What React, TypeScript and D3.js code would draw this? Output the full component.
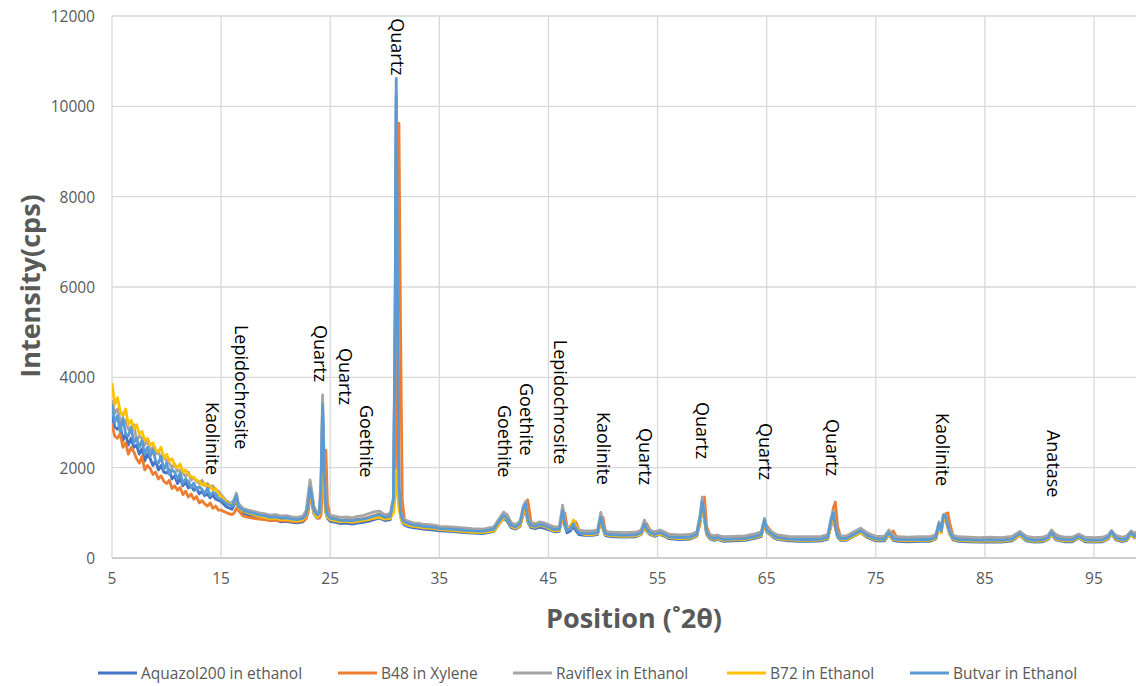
import React from "react";
import * as d3 from "d3";

// 2θ positions shared by all five patterns
const position = [
  5.0, 5.25, 5.5, 5.75, 6.0, 6.25, 6.5, 6.75, 7.0, 7.25,
  7.5, 7.75, 8.0, 8.25, 8.5, 8.75, 9.0, 9.25, 9.5, 9.75,
  10.0, 10.25, 10.5, 10.75, 11.0, 11.25, 11.5, 11.75, 12.0, 12.25,
  12.5, 12.75, 13.0, 13.25, 13.5, 13.75, 14.0, 14.25, 14.5, 14.75,
  15.0, 15.5, 16.0, 16.2, 16.4, 16.6, 17.0, 17.5, 18.0, 18.5,
  19.0, 19.5, 20.0, 20.5, 21.0, 21.5, 22.0, 22.5, 22.8, 23.0,
  23.15, 23.3, 23.5, 23.8, 24.0, 24.15, 24.3, 24.45, 24.6, 24.75,
  25.0, 25.5, 26.0, 26.5, 27.0, 27.5, 28.0, 28.5, 29.0, 29.5,
  30.0, 30.5, 30.8, 30.95, 31.05, 31.15, 31.3, 31.45, 31.6, 31.8,
  32.2, 32.6, 33.0, 33.5, 34.0, 34.5, 35.0, 36.0, 37.0, 38.0,
  39.0, 40.0, 40.5, 40.9, 41.2, 41.6, 42.0, 42.4, 42.7, 42.9,
  43.1, 43.4, 43.8, 44.2, 44.6, 45.0, 45.5, 46.0, 46.3, 46.5,
  46.7, 47.0, 47.3, 47.5, 47.8, 48.3, 49.0, 49.5, 49.8, 50.0,
  50.2, 50.5, 51.0, 52.0, 53.0, 53.5, 53.8, 54.0, 54.3, 54.7,
  55.2, 55.6, 56.0, 57.0, 58.0, 58.6, 58.9, 59.1, 59.3, 59.5,
  59.8, 60.2, 60.5, 61.0, 62.0, 63.0, 64.0, 64.5, 64.8, 65.0,
  65.3, 65.6, 66.0, 67.0, 68.0, 69.0, 70.0, 70.6, 70.9, 71.1,
  71.3, 71.5, 71.8, 72.3, 73.0, 73.6, 74.2, 75.0, 75.8, 76.2,
  76.6, 77.0, 78.0, 79.0, 80.0, 80.5, 80.8, 81.0, 81.2, 81.4,
  81.6, 81.8, 82.1, 82.6, 83.5, 84.5, 85.5, 86.5, 87.5, 88.2,
  88.8, 89.5, 90.3, 90.8, 91.1, 91.5, 92.3, 93.0, 93.6, 94.2,
  95.0, 95.8, 96.3, 96.6, 97.0, 97.6, 98.0, 98.4, 98.7, 99.0,
];

const aquazol = [
  3150, 2900, 2850, 2950, 2600, 2750, 2500, 2650, 2450, 2500,
  2300, 2420, 2150, 2300, 2200, 2050, 2150, 1950, 2050, 1900,
  1880, 1950, 1750, 1820, 1650, 1760, 1600, 1680, 1550, 1600,
  1500, 1560, 1420, 1480, 1380, 1420, 1330, 1400, 1300, 1280,
  1250, 1130, 1080, 1180, 1300, 1060, 990, 950, 910, 880,
  860, 830, 840, 800, 810, 790, 780, 800, 880, 1150,
  1450, 1250, 980, 880, 920, 1450, 3300, 1800, 1000, 880,
  810, 790, 760, 770, 750, 770, 790, 810, 850, 880,
  830, 850, 1200, 5200, 10200, 6200, 1450, 920, 790, 730,
  690, 670, 660, 640, 630, 620, 600, 590, 570, 550,
  540, 590, 760, 880, 820, 670, 640, 700, 1020, 1130,
  800, 670, 650, 680, 660, 630, 580, 590, 980, 710,
  560, 600, 700, 610, 520, 500, 500, 520, 840, 650,
  500, 480, 470, 460, 470, 520, 700, 600, 520, 480,
  520, 480, 430, 410, 420, 480, 840, 1180, 850, 520,
  420, 390, 410, 370, 380, 390, 440, 480, 790, 580,
  520, 460, 410, 380, 370, 370, 380, 420, 770, 940,
  660, 460, 390, 390, 480, 560, 460, 380, 380, 520,
  390, 370, 360, 370, 370, 420, 720, 560, 900, 870,
  680, 520, 400, 370, 360, 350, 360, 350, 380, 500,
  380, 350, 360, 410, 520, 400, 360, 360, 440, 360,
  350, 360, 420, 540, 400, 360, 390, 520, 440, 500,
];

const b48 = [
  2950, 2700, 2650, 2750, 2450, 2550, 2300, 2450, 2350, 2200,
  2100, 2250, 1950, 2050, 1980, 1850, 1900, 1750, 1820, 1700,
  1650, 1720, 1540, 1600, 1500, 1560, 1400, 1480, 1350, 1420,
  1300, 1360, 1220, 1270, 1200, 1150, 1220, 1100, 1150, 1060,
  1060, 1000, 960, 1000, 1100, 1050, 930, 900, 880, 860,
  850, 830, 840, 820, 830, 810, 800, 820, 870, 1050,
  1300, 1450, 1100, 900, 880, 950, 1400, 2000, 2390, 1200,
  900, 870, 840, 850, 830, 860, 870, 900, 940, 970,
  910, 930, 1050, 1500, 3500, 6800, 9620, 5000, 1300, 850,
  780, 750, 740, 720, 700, 690, 670, 650, 630, 610,
  600, 640, 780, 920, 960, 760, 700, 740, 950, 1180,
  1290, 800, 720, 750, 730, 690, 640, 640, 850, 1000,
  700, 640, 740, 800, 620, 550, 550, 560, 780, 900,
  620, 530, 520, 510, 520, 550, 640, 760, 620, 540,
  580, 540, 480, 460, 470, 520, 750, 1200, 1350, 700,
  500, 440, 470, 420, 430, 440, 490, 520, 700, 720,
  620, 520, 460, 430, 420, 420, 430, 460, 700, 1100,
  1240, 700, 450, 440, 530, 640, 520, 430, 430, 500,
  600, 420, 410, 420, 420, 450, 650, 700, 800, 980,
  1000, 750, 480, 420, 410, 400, 410, 400, 430, 500,
  480, 400, 410, 440, 600, 520, 410, 410, 470, 420,
  400, 410, 440, 560, 480, 410, 430, 520, 560, 520,
];

const raviflex = [
  3500, 3200, 3300, 3050, 2950, 3050, 2850, 2800, 2950, 2600,
  2700, 2650, 2500, 2600, 2380, 2450, 2300, 2350, 2200, 2250,
  2150, 2100, 2000, 2080, 1920, 1950, 1880, 1800, 1900, 1720,
  1780, 1700, 1650, 1720, 1600, 1650, 1560, 1600, 1500, 1480,
  1400, 1260, 1210, 1300, 1440, 1200, 1100, 1060, 1030, 1000,
  980, 950, 960, 930, 940, 910, 900, 930, 1050, 1450,
  1730, 1500, 1150, 1000, 1050, 1700, 3610, 2100, 1150, 1020,
  950, 920, 900, 910, 890, 920, 940, 980, 1020, 1040,
  960, 980, 1350, 5300, 10300, 6400, 1600, 1050, 920, 850,
  810, 780, 770, 750, 740, 730, 700, 690, 670, 650,
  640, 690, 880, 1020, 950, 780, 740, 820, 1150, 1250,
  900, 780, 760, 800, 780, 740, 690, 690, 1170, 830,
  660, 700, 800, 720, 620, 600, 600, 620, 1010, 760,
  600, 580, 570, 560, 570, 620, 840, 700, 620, 580,
  620, 580, 530, 510, 520, 580, 950, 1350, 950, 620,
  520, 490, 510, 470, 480, 490, 540, 580, 880, 680,
  620, 560, 510, 480, 470, 470, 480, 520, 880, 1050,
  760, 560, 490, 490, 580, 660, 560, 480, 480, 620,
  490, 470, 460, 470, 470, 520, 800, 660, 960, 950,
  760, 620, 500, 470, 460, 450, 460, 450, 480, 590,
  480, 450, 460, 510, 620, 500, 460, 460, 530, 460,
  450, 460, 510, 610, 500, 460, 490, 600, 540, 580,
];

const b72 = [
  3870, 3400, 3550, 3250, 3150, 3300, 2950, 3050, 2850, 2950,
  2750, 2800, 2600, 2650, 2500, 2550, 2400, 2350, 2450, 2200,
  2300, 2150, 2200, 2050, 2000, 2080, 1900, 1950, 1850, 1800,
  1780, 1720, 1700, 1620, 1650, 1560, 1600, 1500, 1540, 1420,
  1360, 1230, 1170, 1220, 1320, 1110, 1040, 1000, 960, 920,
  900, 870, 880, 850, 860, 830, 820, 850, 930, 1180,
  1450, 1300, 1000, 900, 950, 1300, 2100, 1500, 1000, 900,
  850, 820, 800, 810, 790, 810, 830, 850, 880, 900,
  860, 880, 1000, 1400, 1950, 1500, 1100, 900, 800, 760,
  720, 700, 690, 670, 660, 650, 630, 610, 590, 570,
  560, 600, 760, 900, 860, 700, 660, 720, 1000, 1100,
  820, 700, 680, 720, 700, 660, 600, 610, 950, 760,
  620, 680, 840, 720, 580, 520, 520, 540, 820, 680,
  520, 500, 490, 480, 490, 530, 700, 620, 540, 500,
  530, 500, 450, 430, 440, 500, 840, 1150, 850, 540,
  440, 410, 430, 390, 400, 410, 460, 500, 780, 600,
  540, 480, 430, 400, 390, 390, 400, 440, 760, 930,
  660, 480, 410, 410, 490, 560, 480, 400, 400, 520,
  410, 390, 380, 390, 390, 440, 700, 560, 880, 860,
  680, 530, 420, 390, 380, 370, 380, 370, 400, 500,
  400, 370, 380, 420, 520, 420, 380, 380, 450, 380,
  370, 380, 430, 540, 420, 380, 410, 520, 450, 500,
];

const butvar = [
  3400, 3000, 3150, 2800, 3100, 2750, 2700, 2900, 2550, 2650,
  2450, 2600, 2300, 2450, 2250, 2400, 2150, 2100, 2250, 1950,
  2100, 1850, 1950, 1900, 1750, 1880, 1650, 1750, 1700, 1560,
  1660, 1500, 1580, 1520, 1420, 1550, 1380, 1450, 1420, 1320,
  1300, 1200, 1150, 1250, 1380, 1130, 1060, 1020, 990, 950,
  940, 900, 910, 880, 890, 860, 850, 880, 960, 1250,
  1550, 1350, 1060, 950, 990, 1500, 3400, 1900, 1100, 960,
  880, 860, 830, 840, 820, 850, 860, 890, 930, 960,
  900, 920, 1300, 5500, 10620, 6500, 1600, 1000, 860, 800,
  760, 730, 720, 700, 690, 680, 650, 640, 620, 600,
  590, 640, 820, 940, 880, 720, 690, 760, 1100, 1200,
  850, 720, 700, 740, 720, 680, 630, 640, 1050, 760,
  600, 650, 760, 660, 560, 540, 540, 560, 900, 700,
  540, 520, 510, 500, 510, 560, 750, 640, 560, 520,
  560, 520, 470, 450, 460, 520, 900, 1250, 900, 560,
  460, 430, 450, 410, 420, 430, 480, 520, 840, 620,
  560, 500, 450, 420, 410, 410, 420, 460, 820, 1000,
  700, 500, 430, 430, 520, 600, 500, 420, 420, 560,
  430, 410, 400, 410, 410, 460, 760, 600, 950, 920,
  720, 560, 440, 410, 400, 390, 400, 390, 420, 540,
  420, 390, 400, 450, 560, 440, 400, 400, 480, 400,
  390, 400, 460, 580, 440, 400, 430, 560, 480, 540,
];

const seriesNames = [
  "Aquazol200 in ethanol",
  "B48 in Xylene",
  "Raviflex in Ethanol",
  "B72 in Ethanol",
  "Butvar in Ethanol",
];
const seriesValues = [aquazol, b48, raviflex, b72, butvar];
const seriesColors = ["#4472C4", "#ED7D31", "#A5A5A5", "#FFC000", "#5B9BD5"];

// phase labels: name, 2θ of the label column, intensity at the top of the text
const phaseLabels = [
  "Quartz", "Kaolinite", "Lepidochrosite", "Quartz", "Quartz", "Goethite",
  "Goethite", "Goethite", "Lepidochrosite", "Kaolinite", "Quartz", "Quartz",
  "Quartz", "Quartz", "Kaolinite", "Anatase",
];
const phasePositions = [
  31.24, 14.27, 16.93, 24.17, 26.47, 28.39, 41.06, 43.07, 46.19, 50.05,
  53.9, 59.13, 64.91, 71.06, 81.15, 91.33,
];
const phaseTops = [
  11950, 3455, 5160, 5160, 4650, 3390, 3390, 3875, 4830, 3235,
  2880, 3455, 2990, 3080, 3210, 2835,
];

const xTicks = [5, 15, 25, 35, 45, 55, 65, 75, 85, 95];
const yTicks = [0, 2000, 4000, 6000, 8000, 10000, 12000];
const legendX = [98, 338, 513, 727, 910];

const W = 1136;
const H = 686;
const FONT = "'Open Sans', 'Noto Sans', sans-serif";

export default function App() {
  const left = 112;
  const top = 16;
  const bottom = 558;
  const pxPerUnit = 10.911;

  const x = d3.scaleLinear().domain([5, 100]).range([left, left + 95 * pxPerUnit]);
  const y = d3.scaleLinear().domain([0, 12000]).range([bottom, top]);

  const line = d3
    .line<number>()
    .x((_, i) => x(position[i]))
    .y((d) => y(d));

  return (
    <div style={{ position: "absolute", left: 0, top: 0 }}>
      <svg width={W} height={H} style={{ display: "block", background: "#fff" }}>
        <defs>
          <clipPath id="plot">
            <rect x={left} y={top - 2} width={W - left} height={bottom - top + 2} />
          </clipPath>
        </defs>

        {/* gridlines */}
        {yTicks.map((t) => (
          <line key={"gy" + t} x1={left} x2={W} y1={y(t)} y2={y(t)}
            stroke={t === 0 ? "#bfbfbf" : "#d9d9d9"} strokeWidth={1.3} />
        ))}
        {xTicks.map((t) => (
          <line key={"gx" + t} x1={x(t)} x2={x(t)} y1={top} y2={bottom}
            stroke="#d9d9d9" strokeWidth={1.3} />
        ))}

        {/* tick labels */}
        {yTicks.map((t) => (
          <text key={"ty" + t} x={95} y={y(t)} textAnchor="end" dominantBaseline="central"
            fontFamily={FONT} fontSize={15.5} fill="#595959">{t}</text>
        ))}
        {xTicks.map((t) => (
          <text key={"tx" + t} x={x(t)} y={578} textAnchor="middle" dominantBaseline="central"
            fontFamily={FONT} fontSize={15.5} fill="#595959">{t}</text>
        ))}

        {/* patterns */}
        <g clipPath="url(#plot)">
          {seriesValues.map((vals, k) => (
            <path key={seriesNames[k]} d={line(vals) || ""} fill="none"
              stroke={seriesColors[k]} strokeWidth={2.8} strokeLinejoin="round" />
          ))}
        </g>

        {/* phase annotations */}
        {phaseLabels.map((lab, i) => (
          <text key={"p" + i}
            transform={`translate(${x(phasePositions[i])},${y(phaseTops[i])}) rotate(90)`}
            dominantBaseline="central" fontFamily={FONT} fontSize={18} fill="#000">
            {lab}
          </text>
        ))}

        {/* axis titles */}
        <text transform="translate(29,286) rotate(-90)" textAnchor="middle" dominantBaseline="central"
          fontFamily={FONT} fontSize={27} fontWeight="bold" fill="#595959">Intensity(cps)</text>
        <text x={634} y={617} textAnchor="middle" dominantBaseline="central"
          fontFamily={FONT} fontSize={27} fontWeight="bold" fill="#595959">Position (˚2θ)</text>

        {/* legend */}
        {seriesNames.map((name, k) => (
          <g key={"lg" + k} transform={`translate(${legendX[k]},673)`}>
            <line x1={0} x2={39} y1={0} y2={0} stroke={seriesColors[k]} strokeWidth={3} />
            <text x={43} y={0} dominantBaseline="central" fontFamily={FONT} fontSize={15.5}
              fill="#595959">{name}</text>
          </g>
        ))}
      </svg>
    </div>
  );
}
